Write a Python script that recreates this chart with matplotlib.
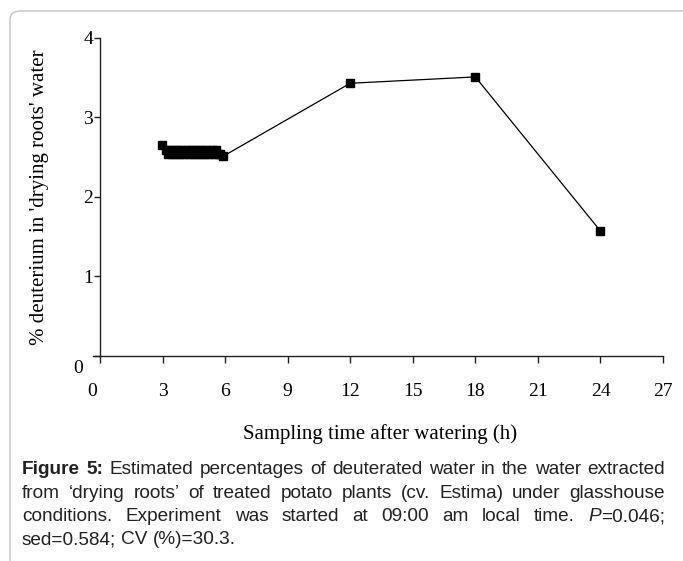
import matplotlib
matplotlib.use("Agg")
import matplotlib.pyplot as plt
from matplotlib.patches import FancyBboxPatch
from matplotlib.transforms import ScaledTranslation, IdentityTransform

# ---- data ----
hours = [2.96, 3.15, 3.25, 3.35, 3.45, 3.55, 3.65, 3.75, 3.85, 3.95, 4.05, 4.15, 4.25,
         4.35, 4.45, 4.55, 4.65, 4.75, 4.85, 4.95, 5.05, 5.15, 5.25, 5.35, 5.45, 5.55,
         5.65, 5.75, 5.9, 12, 18, 24]
deuterium = [2.65, 2.585, 2.535, 2.585, 2.535, 2.585, 2.535, 2.585, 2.535, 2.585, 2.535,
             2.585, 2.535, 2.585, 2.535, 2.585, 2.535, 2.585, 2.535, 2.585, 2.535, 2.585,
             2.535, 2.585, 2.535, 2.585, 2.535, 2.545, 2.51, 3.43, 3.51, 1.57]
xticks = [0, 3, 6, 9, 12, 15, 18, 21, 24, 27]
yticks = [0, 1, 2, 3, 4]
xlabel = "Sampling time after watering (h)"
ylabel = "% deuterium in 'drying roots' water"
caption_lines = [
    [[("Figure", "bold")], [("5:", "bold")], [("Estimated", "normal")], [("percentages", "normal")],
     [("of", "normal")], [("deuterated", "normal")], [("water", "normal")], [("in", "normal")],
     [("the", "normal")], [("water", "normal")], [("extracted", "normal")]],
    [[("from", "normal")], [("\u2018drying", "normal")], [("roots\u2019", "normal")], [("of", "normal")],
     [("treated", "normal")], [("potato", "normal")], [("plants", "normal")], [("(cv.", "normal")],
     [("Estima)", "normal")], [("under", "normal")], [("glasshouse", "normal")]],
    [[("conditions.", "normal")], [("Experiment", "normal")], [("was", "normal")], [("started", "normal")],
     [("at", "normal")], [("09:00", "normal")], [("am", "normal")], [("local", "normal")],
     [("time.", "normal")], [("P", "italic"), ("=0.046;", "normal")]],
    [[("sed=0.584;", "normal")], [("CV", "normal")], [("(%)=30.3.", "normal")]],
]

W, H = 683, 561
fig = plt.figure(figsize=(W / 100, H / 100), dpi=100)

# border box
fig.patches.append(FancyBboxPatch((10 / W, -0.05), 1.2, (H - 11) / H + 0.05,
                                  boxstyle="round,pad=0,rounding_size=0.015",
                                  transform=fig.transFigure, fill=False,
                                  edgecolor="#c4c4c4", linewidth=1.0))

# axes: x=0 at 100 px, x=27 at 663 px; x-axis line starts a little left of the y axis
x0, x1, y0, y1 = 100, 663, 355.7, 38
ext = 7  # px of x-axis line left of the y axis
ppu = (x1 - x0) / 27.0
ax = fig.add_axes([(x0 - ext) / W, (H - y0) / H, (x1 - x0 + ext) / W, (y0 - y1) / H])
ax.plot(hours, deuterium, color="black", linewidth=0.9, marker="s",
        markersize=5.5, markerfacecolor="black", markeredgecolor="black")
ax.set_xlim(-ext / ppu, 27)
ax.set_ylim(0, 4)
ax.spines["left"].set_position(("data", 0))
ax.set_xticks(xticks)
ax.set_yticks(yticks)
serif = "Liberation Serif"
ax.set_xticklabels([str(t) for t in xticks], family=serif, fontsize=14)
ax.set_yticklabels([str(t) for t in yticks], family=serif, fontsize=14)
for s in ["top", "right"]:
    ax.spines[s].set_visible(False)
for s in ["left", "bottom"]:
    ax.spines[s].set_linewidth(1.0)
    ax.spines[s].set_color("#222222")
ax.tick_params(axis="x", direction="out", length=5, width=1, pad=15, colors="#222222",
               labelcolor="black")
ax.tick_params(axis="y", direction="out", length=4, width=1, pad=1, colors="#222222",
               labelcolor="black")
# shift the '0' labels as in the reference
yl0 = ax.get_yticklabels()[0]
yl0.set_transform(yl0.get_transform() + ScaledTranslation(-10 / 100, -11 / 100, fig.dpi_scale_trans))
xl0 = ax.get_xticklabels()[0]
xl0.set_transform(xl0.get_transform() + ScaledTranslation(-8 / 100, 0, fig.dpi_scale_trans))
ax.set_xlabel(xlabel, family=serif, fontsize=15)
ax.set_ylabel(ylabel, family=serif, fontsize=15)
axw = x1 - x0 + ext
ax.yaxis.set_label_coords((40 - (x0 - ext)) / axw, 0.5)
ax.xaxis.set_label_coords((380 - (x0 - ext)) / axw, -(434 - y0) / (y0 - y1))
ax.xaxis.label.set_va("center")
ax.yaxis.label.set_va("center")

# caption, justified
fig.canvas.draw()
renderer = fig.canvas.get_renderer()
left_px, right_px = 22, 665
baselines = [474, 497.5, 521, 544.5]
sans = "Liberation Sans"


def make_piece(x, y, txt, style, fs):
    kw = dict(family=sans, fontsize=fs, va="baseline", ha="left",
              transform=IdentityTransform(), color="#222222")
    if style == "bold":
        kw["weight"] = "bold"
    if style == "italic":
        kw["style"] = "italic"
    return fig.text(x, y, txt, **kw)


def width_of(txt, style, fs):
    t = make_piece(0, 0, txt, style, fs)
    w = t.get_window_extent(renderer).width
    t.remove()
    return w


def word_widths(words, fs):
    return [sum(width_of(txt, st, fs) for txt, st in w) for w in words]


# choose font size so the first line fits with nearly normal spacing
fs = 10.0
while True:
    sp = width_of("a a", "normal", fs + 0.1) - width_of("aa", "normal", fs + 0.1)
    tot = sum(word_widths(caption_lines[0], fs + 0.1)) + sp * 1.15 * (len(caption_lines[0]) - 1)
    if tot > right_px - left_px:
        break
    fs += 0.1

space_w = width_of("a a", "normal", fs) - width_of("aa", "normal", fs)
for li, words in enumerate(caption_lines):
    y = H - baselines[li]
    widths = word_widths(words, fs)
    if li < len(caption_lines) - 1:
        gap = (right_px - left_px - sum(widths)) / (len(words) - 1)
    else:
        gap = space_w
    x = left_px
    for w, wd in zip(words, widths):
        xx = x
        for txt, st in w:
            t = make_piece(xx, y, txt, st, fs)
            xx += t.get_window_extent(renderer).width
        x += wd + gap

fig.savefig("out.png", dpi=100)
